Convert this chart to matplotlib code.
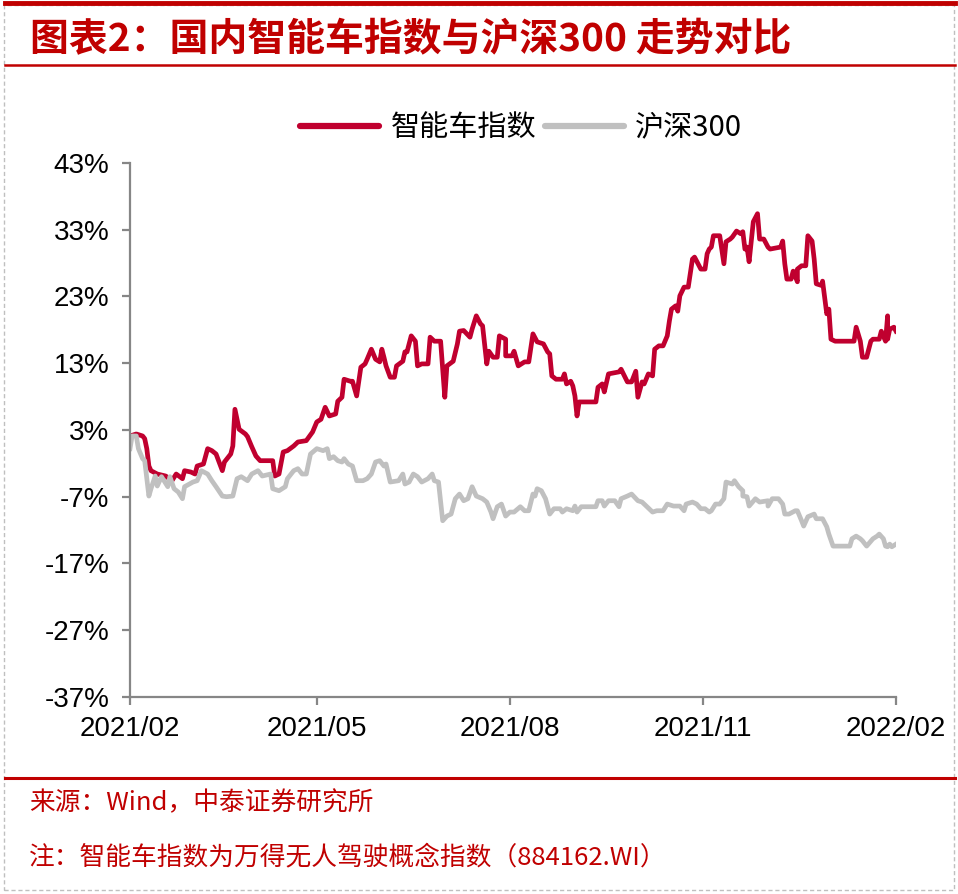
import matplotlib
matplotlib.use("Agg")
import numpy as np
import pandas as pd
from matplotlib import pyplot as plt
from matplotlib.lines import Line2D
from matplotlib.patches import Rectangle
import matplotlib.dates as mdates

plt.rcParams["font.family"] = ["Liberation Sans", "Noto Sans CJK SC", "DejaVu Sans"]

# data: day offset from 2021-02-01, cumulative change in %
start_date = pd.Timestamp("2021-02-01")
end_date = pd.Timestamp("2022-02-01")

smart_car_days = [
    0, 3, 6, 7, 8, 9, 10, 13, 17, 20, 22, 25, 26, 29, 31, 32, 35, 37, 39, 41,
    44, 45, 48, 49, 50, 51, 52, 55, 56, 58, 60, 62, 68, 69, 71, 73, 75, 78, 80, 84,
    87, 89, 91, 93, 95, 98, 99, 101, 102, 105, 106, 108, 110, 112, 113, 115, 117, 119, 120, 121,
    122, 124, 126, 127, 130, 131, 132, 134, 136, 137, 139, 142, 143, 145, 148, 150, 151, 154, 156, 157,
    159, 162, 163, 165, 167, 168, 170, 171, 173, 175, 176, 179, 179, 182, 183, 185, 188, 190, 192, 194,
    197, 199, 200, 201, 203, 206, 207, 208, 210, 211, 212, 213, 214, 222, 223, 225, 226, 228, 233, 234,
    237, 239, 241, 242, 244, 245, 247, 249, 250, 252, 254, 256, 257, 258, 260, 261, 262, 264, 266, 268,
    269, 272, 274, 275, 276, 277, 278, 280, 281, 283, 284, 286, 287, 289, 291, 292, 293, 294, 295, 297,
    299, 300, 302, 304, 305, 310, 311, 312, 313, 315, 316, 318, 318, 320, 322, 323, 325, 326, 327, 330,
    330, 332, 333, 334, 336, 345, 346, 348, 349, 351, 353, 354, 357, 358, 360, 361, 361, 362, 364, 365,
]
smart_car_vals = [
    2.1, 2.4, 2.1, 1.7, 0.2, -2.4, -3.1, -3.6, -3.9, -4.6, -3.6, -4.3, -3.1, -3.3, -3.6, -2.4, -2.1, 0.2, -0.1, -0.6,
    -3.1, -1.8, -0.6, 0.6, 6.1, 4.6, 3.1, 2.4, 2.0, 0.5, -0.9, -1.6, -1.6, -3.9, -3.6, -0.3, -0.1, 0.6, 1.2, 1.4,
    2.7, 4.2, 4.6, 6.4, 5.1, 5.4, 7.3, 7.9, 10.6, 10.3, 10.3, 8.1, 12.4, 12.9, 13.6, 15.1, 13.6, 13.2, 15.1, 13.9,
    12.6, 10.9, 10.9, 12.6, 13.3, 14.7, 14.7, 17.1, 16.3, 12.6, 12.9, 12.9, 16.9, 16.3, 16.3, 7.9, 12.6, 13.3, 15.9, 17.8,
    17.9, 16.9, 18.1, 20.1, 18.9, 18.6, 12.9, 14.8, 13.9, 13.9, 17.1, 16.6, 14.1, 14.1, 14.8, 12.6, 13.2, 13.2, 17.4, 16.2,
    15.9, 14.7, 14.4, 11.1, 10.6, 10.6, 11.4, 9.9, 10.3, 9.6, 8.1, 5.1, 7.2, 7.2, 9.4, 9.9, 8.7, 11.4, 11.7, 12.1,
    10.2, 10.2, 11.8, 7.9, 10.2, 9.9, 11.4, 11.1, 15.1, 15.6, 15.6, 17.1, 19.3, 21.1, 21.6, 20.8, 23.1, 24.4, 24.4, 28.6,
    28.9, 27.1, 27.1, 29.4, 30.1, 30.4, 32.1, 32.1, 32.1, 27.9, 31.2, 31.6, 31.9, 32.8, 32.4, 32.7, 30.1, 30.4, 28.2, 34.2,
    35.4, 31.6, 31.6, 30.4, 30.1, 30.4, 31.3, 27.9, 25.6, 25.6, 26.8, 25.2, 27.1, 27.6, 27.6, 32.1, 31.3, 28.6, 24.9, 24.6,
    25.3, 20.4, 21.1, 16.6, 16.3, 16.3, 18.4, 16.3, 13.9, 13.9, 16.3, 16.6, 16.6, 17.8, 16.3, 20.1, 16.6, 18.1, 18.4, 17.8,
]

hs300_days = [
    0, 1, 3, 4, 6, 7, 9, 10, 12, 13, 15, 18, 19, 21, 23, 25, 26, 30, 32, 34,
    37, 39, 41, 44, 46, 49, 51, 53, 56, 58, 61, 63, 67, 68, 71, 74, 75, 78, 80, 82,
    84, 86, 89, 92, 94, 95, 97, 99, 101, 102, 104, 106, 108, 111, 113, 115, 117, 119, 121, 122,
    124, 128, 130, 131, 133, 135, 137, 139, 142, 144, 145, 147, 149, 151, 153, 155, 157, 159, 161, 163,
    165, 168, 170, 172, 173, 175, 177, 179, 181, 183, 186, 188, 190, 192, 193, 194, 196, 198, 200, 202,
    205, 206, 208, 211, 212, 213, 215, 222, 223, 225, 226, 228, 231, 233, 234, 237, 239, 242, 244, 246,
    249, 251, 254, 256, 259, 262, 264, 265, 268, 270, 272, 274, 276, 277, 279, 281, 283, 284, 287, 288,
    290, 292, 292, 294, 295, 298, 300, 304, 304, 306, 309, 311, 312, 314, 317, 318, 320, 321, 323, 326,
    327, 330, 332, 333, 335, 343, 344, 346, 348, 349, 351, 354, 356, 357, 359, 360, 361, 362, 363, 365,
]
hs300_vals = [
    0.2, 2.1, 2.1, 0.2, -1.3, -1.6, -6.9, -5.8, -3.9, -5.4, -4.0, -5.5, -4.0, -5.8, -6.3, -7.3, -5.5, -4.8, -4.6, -3.1,
    -3.6, -4.6, -5.5, -6.9, -7.0, -6.9, -4.3, -4.0, -4.6, -3.6, -3.1, -3.9, -3.6, -5.8, -6.1, -5.5, -4.3, -3.1, -2.8, -3.6,
    -3.6, -0.6, 0.2, -0.1, 0.2, -1.3, -1.0, -1.6, -1.8, -1.3, -2.1, -2.4, -4.6, -4.6, -4.3, -3.6, -1.8, -1.6, -2.4, -2.1,
    -4.8, -4.6, -3.6, -5.1, -4.8, -3.6, -4.0, -4.8, -4.3, -3.6, -4.6, -4.8, -10.6, -9.9, -9.6, -7.3, -6.6, -7.6, -7.3, -5.5,
    -6.9, -7.3, -7.8, -9.3, -10.3, -8.5, -8.1, -9.9, -9.3, -9.3, -8.5, -9.1, -9.1, -6.6, -6.9, -5.8, -6.1, -7.3, -9.6, -8.8,
    -8.8, -9.3, -8.8, -9.1, -8.4, -9.3, -8.5, -8.5, -7.6, -7.6, -8.4, -7.6, -7.6, -8.5, -7.3, -6.9, -6.6, -7.6, -7.8, -8.4,
    -9.3, -9.1, -9.1, -8.1, -8.4, -8.4, -9.1, -8.1, -7.8, -8.1, -8.8, -8.8, -9.3, -9.1, -8.1, -8.1, -7.3, -4.8, -5.1, -4.6,
    -5.5, -6.1, -6.9, -7.0, -8.4, -7.3, -7.8, -7.6, -8.4, -7.3, -7.3, -8.1, -9.6, -9.6, -9.1, -9.1, -10.6, -11.4, -10.0, -9.6,
    -10.3, -10.3, -11.5, -12.6, -14.4, -14.4, -13.3, -12.9, -13.3, -13.6, -14.4, -13.3, -12.9, -12.6, -13.3, -14.4, -14.5, -14.1, -14.5, -14.1,
]

series_labels = ["智能车指数", "沪深300"]
tick_dates = ["2021-02-01", "2021-05-01", "2021-08-01", "2021-11-01", "2022-02-01"]
y_ticks = [-37, -27, -17, -7, 3, 13, 23, 33, 43]

title_text = "图表2：国内智能车指数与沪深300 走势对比"
source_text = "来源：Wind，中泰证券研究所"
note_text = "注：智能车指数为万得无人驾驶概念指数（884162.WI）"

RED = "#C00000"
LINE_RED = "#C0002F"
LINE_GREY = "#C0C0C0"
AXIS_GREY = "#868686"
CJK = ["Noto Sans CJK SC", "DejaVu Sans"]

fig = plt.figure(figsize=(9.58, 8.94), dpi=100)
ax = fig.add_axes([0.1357, 0.2204, 0.7996, 0.5973])

x_red = start_date + pd.to_timedelta(smart_car_days, unit="D")
x_grey = start_date + pd.to_timedelta(hs300_days, unit="D")
ax.plot(x_red, smart_car_vals, color=LINE_RED, lw=3.4, solid_joinstyle="round",
        label=series_labels[0])
ax.plot(x_grey, hs300_vals, color=LINE_GREY, lw=3.4, solid_joinstyle="round",
        label=series_labels[1])

ax.set_xlim(start_date, end_date)
ax.set_ylim(-37, 43)
ax.set_yticks(y_ticks)
ax.set_yticklabels([f"{v}%" for v in y_ticks])
ax.set_xticks(pd.to_datetime(tick_dates))
ax.xaxis.set_major_formatter(mdates.DateFormatter("%Y/%m"))

for side in ("top", "right"):
    ax.spines[side].set_visible(False)
for side in ("left", "bottom"):
    ax.spines[side].set_color(AXIS_GREY)
    ax.spines[side].set_linewidth(1.6)
ax.tick_params(axis="both", colors=AXIS_GREY, width=1.6, length=6, labelsize=20,
               labelcolor="black", direction="out")
ax.tick_params(axis="x", pad=8)
ax.tick_params(axis="y", pad=9)

leg = ax.legend(loc="center", bbox_to_anchor=(0.544, 0.857), bbox_transform=fig.transFigure,
                ncol=2, frameon=False, handlelength=2.7, handletextpad=0.4,
                columnspacing=0.3, prop={"family": CJK, "size": 21})
for h in leg.get_lines():
    h.set_linewidth(4.5)
    h.set_solid_capstyle("round")

# report frame: red rules, dashed border, title and notes
fig.add_artist(Line2D([0.005, 0.997], [0.9965, 0.9965], color=RED, lw=3.5,
                      transform=fig.transFigure))
fig.add_artist(Line2D([0.005, 0.997], [0.927, 0.927], color=RED, lw=1.8,
                      transform=fig.transFigure))
fig.add_artist(Line2D([0.005, 0.997], [0.1295, 0.1295], color=RED, lw=2.2,
                      transform=fig.transFigure))
fig.add_artist(Rectangle((0.004, 0.004), 0.992, 0.99, fill=False, edgecolor="#BFBFBF",
                         lw=1.0, linestyle=(0, (3, 2)), transform=fig.transFigure))

fig.text(0.031, 0.956, title_text, color=RED, fontsize=28, fontweight="bold",
         family=CJK, va="center", ha="left")
fig.text(0.030, 0.102, source_text, color=RED, fontsize=18.5, family=CJK,
         va="center", ha="left")
fig.text(0.030, 0.041, note_text, color=RED, fontsize=18.5, family=CJK,
         va="center", ha="left")

fig.savefig("out.png", dpi=100)
